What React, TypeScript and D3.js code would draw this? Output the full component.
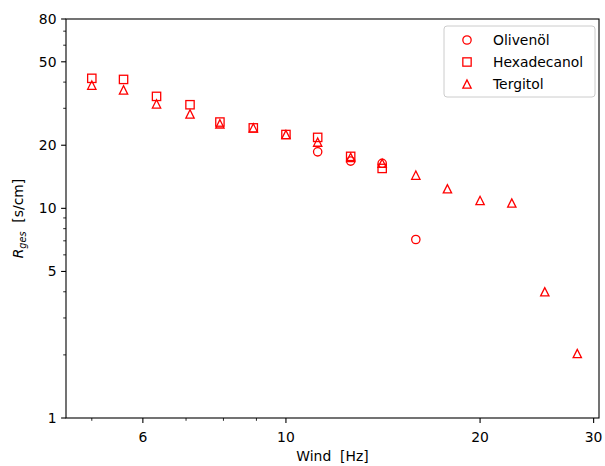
import * as d3 from 'd3';

const WIDTH = 605;
const HEIGHT = 466;
const PLOT = { left: 66, right: 599, top: 19, bottom: 418 };

// Olivenöl
const windOliven = [11.2, 12.6, 14.1, 15.9];
const rOliven = [18.6, 16.8, 16.4, 7.1];

// Hexadecanol
const windHexa = [5.0, 5.6, 6.3, 7.1, 7.9, 8.9, 10.0, 11.2, 12.6, 14.1];
const rHexa = [41.7, 41.2, 34.2, 31.2, 25.8, 24.2, 22.5, 21.8, 17.7, 15.5];

// Tergitol
const windTerg = [5.0, 5.6, 6.3, 7.1, 7.9, 8.9, 10.0, 11.2, 12.6, 14.1, 15.9, 17.8, 20.0, 22.4, 25.2, 28.3];
const rTerg = [38.7, 36.7, 31.5, 28.2, 25.3, 24.2, 22.5, 20.7, 17.5, 16.4, 14.4, 12.4, 10.9, 10.6, 4.0, 2.03];

const xTicksLabeled = [6, 10, 20, 30];
const xTicksMinor = [5, 7, 8, 9];
const yTicksLabeled = [1, 5, 10, 20, 50, 80];
const yTicksMinor = [2, 3, 4, 6, 7, 8, 9, 30, 40, 60, 70];

const legendLabels = ['Olivenöl', 'Hexadecanol', 'Tergitol'];

const RED = '#ff0000';
const FONT = '"DejaVu Sans", sans-serif';
const MS = 8.33;

type Shape = 'circle' | 'square' | 'triangle';

function Marker({ x, y, shape }: { x: number; y: number; shape: Shape }) {
  const h = MS / 2;
  const common = { fill: 'none', stroke: RED, strokeWidth: 1.3 };
  if (shape === 'circle') return <circle cx={x} cy={y} r={h} {...common} />;
  if (shape === 'square') return <rect x={x - h} y={y - h} width={MS} height={MS} {...common} />;
  return <path d={`M${x},${y - h}L${x - h},${y + h}L${x + h},${y + h}Z`} {...common} />;
}

export default function App() {
  const x = d3.scaleLog().domain([4.56, 30.58]).range([PLOT.left, PLOT.right]);
  const y = d3.scaleLog().domain([1, 80]).range([PLOT.bottom, PLOT.top]);

  const series: { wind: number[]; r: number[]; shape: Shape }[] = [
    { wind: windOliven, r: rOliven, shape: 'circle' },
    { wind: windHexa, r: rHexa, shape: 'square' },
    { wind: windTerg, r: rTerg, shape: 'triangle' },
  ];

  const midY = (PLOT.top + PLOT.bottom) / 2;
  const midX = (PLOT.left + PLOT.right) / 2;

  return (
    <svg
      width={WIDTH}
      height={HEIGHT}
      style={{ position: 'absolute', left: 0, top: 0, background: '#fff' }}
      fontFamily={FONT}
    >
      {/* Marker */}
      {series.map((s, si) =>
        s.wind.map((w, i) => <Marker key={`${si}-${i}`} x={x(w)} y={y(s.r[i])} shape={s.shape} />)
      )}

      {/* Rahmen */}
      <rect
        x={PLOT.left}
        y={PLOT.top}
        width={PLOT.right - PLOT.left}
        height={PLOT.bottom - PLOT.top}
        fill="none"
        stroke="#000"
        strokeWidth={1.1}
      />

      {/* x-Achse */}
      {xTicksLabeled.map((t) => (
        <g key={`xl${t}`}>
          <line x1={x(t)} x2={x(t)} y1={PLOT.bottom} y2={PLOT.bottom + 4.9} stroke="#000" strokeWidth={1.1} />
          <text x={x(t)} y={PLOT.bottom + 24} fontSize={13.9} textAnchor="middle">
            {t}
          </text>
        </g>
      ))}
      {xTicksMinor.map((t) => (
        <line key={`xm${t}`} x1={x(t)} x2={x(t)} y1={PLOT.bottom} y2={PLOT.bottom + 2.8} stroke="#000" strokeWidth={0.85} />
      ))}
      <text x={midX} y={461} fontSize={13.9} textAnchor="middle">
        {'Wind\u00a0\u00a0[Hz]'}
      </text>

      {/* y-Achse */}
      {yTicksLabeled.map((t) => (
        <g key={`yl${t}`}>
          <line x1={PLOT.left - 4.9} x2={PLOT.left} y1={y(t)} y2={y(t)} stroke="#000" strokeWidth={1.1} />
          <text x={PLOT.left - 9.5} y={y(t)} dy="0.36em" fontSize={13.9} textAnchor="end">
            {t}
          </text>
        </g>
      ))}
      {yTicksMinor.map((t) => (
        <line key={`ym${t}`} x1={PLOT.left - 2.8} x2={PLOT.left} y1={y(t)} y2={y(t)} stroke="#000" strokeWidth={0.85} />
      ))}
      <text transform={`translate(23,${midY}) rotate(-90)`} fontSize={13.9} textAnchor="middle">
        <tspan fontStyle="italic">R</tspan>
        <tspan fontStyle="italic" fontSize={9.7} dy={2.5}>ges</tspan>
        <tspan dy={-2.5}>{'\u00a0\u00a0[s/cm]'}</tspan>
      </text>

      {/* Legende */}
      <rect x={444} y={26} width={151} height={71} rx={3} fill="#fff" fillOpacity={0.8} stroke="#cccccc" strokeWidth={1} />
      {legendLabels.map((lab, i) => {
        const cy = 40 + i * 22;
        return (
          <g key={lab}>
            <Marker x={467} y={cy} shape={series[i].shape} />
            <text x={493} y={cy + 5} fontSize={13.9}>
              {lab}
            </text>
          </g>
        );
      })}
    </svg>
  );
}
